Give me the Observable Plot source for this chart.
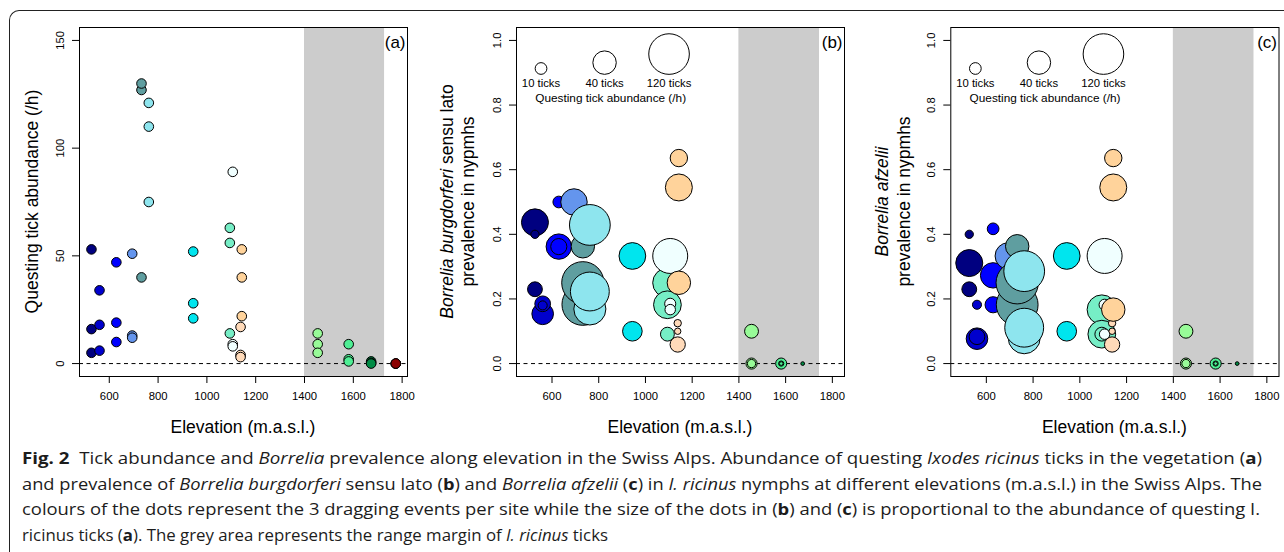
<!DOCTYPE html>
<html>
<head>
<meta charset="utf-8">
<script src="https://cdn.jsdelivr.net/npm/d3@7"></script>
<script src="https://cdn.jsdelivr.net/npm/@observablehq/plot@0.6"></script>
<style>
  html, body { margin: 0; padding: 0; background: #fff; width: 1284px; height: 552px; overflow: hidden; }
  #fig { position: relative; width: 1284px; height: 552px; overflow: hidden; }
  #border { position: absolute; left: 9px; top: 10px; width: 1400px; height: 700px;
            border-left: 1.2px solid #222; border-top: 1.2px solid #222; border-top-left-radius: 10px; }
  .panel { position: absolute; top: 0; }
  #caption { position: absolute; left: 22px; top: 445px; font-family: "Open Sans", "Noto Sans", sans-serif;
             font-size: 16.5px; color: #1c1c1c; }
  #caption .line { white-space: nowrap; width: max-content; height: 25.6px; line-height: 25.6px; transform-origin: 0 50%; }
  #caption b { font-weight: 700; }
</style>
</head>
<body>
<div id="fig">
  <div id="border"></div>
  <div id="pa" class="panel" style="left:0px"></div>
  <div id="pb" class="panel" style="left:420px"></div>
  <div id="pc" class="panel" style="left:850px"></div>
  <div id="caption">
    <div class="line"><b>Fig. 2</b>&nbsp; Tick abundance and <i>Borrelia</i> prevalence along elevation in the Swiss Alps. Abundance of questing <i>Ixodes ricinus</i> ticks in the vegetation (<b>a</b>)</div>
    <div class="line">and prevalence of <i>Borrelia burgdorferi</i> sensu lato (<b>b</b>) and <i>Borrelia afzelii</i> (<b>c</b>) in <i>I. ricinus</i> nymphs at different elevations (m.a.s.l.) in the Swiss Alps. The</div>
    <div class="line">colours of the dots represent the 3 dragging events per site while the size of the dots in (<b>b</b>) and (<b>c</b>) is proportional to the abundance of questing I.</div>
    <div class="line">ricinus ticks (<b>a</b>). The grey area represents the range margin of <i>I. ricinus</i> ticks</div>
  </div>
</div>
<script>
// ---------------- data ----------------
// sites (elevation, m a.s.l.), one colour per site
const siteElevation = [527, 560, 629, 694, 732, 762, 944, 1094, 1106, 1138, 1143, 1454, 1581, 1673, 1774];
const siteIds = siteElevation.map(e => "site " + e);
const sitePalette = ["#000080", "#0000CD", "#0000FF", "#6495ED", "#5F9EA0", "#8EE5EE", "#00E5EE",
                     "#76EEC6", "#F0FFFF", "#FFDAB9", "#FFD39B", "#98FB98", "#4EEE94", "#008B45", "#8B0000"];
// questing tick abundance (/h) for the 3 dragging events per site
const abundance = [
  [53, 16, 5], [34, 18, 6], [47, 19, 10], [51, 13, 12], [127, 130, 40], [121, 75, 110], [52, 28, 21],
  [63, 56, 14], [89, 9, 8], [17, 4, 3], [53, 40, 22], [14, 9, 5], [9, 2, 1], [1, 0.3, 0], [0, 0, 0]
];
// Borrelia burgdorferi s.l. prevalence in nymphs (null = not available)
const prevalenceBbsl = [
  [0.437, 0.230, 0.400], [0.154, 0.185, 0.180], [0.362, 0.362, 0.500], [0.500, null, null],
  [0.183, 0.250, 0.363], [0.429, 0.169, 0.223], [0.333, 0.100, null], [0.250, 0.182, 0.091],
  [0.333, 0.185, 0.167], [0.059, 0.125, 0.100], [0.545, 0.250, 0.636], [0.100, 0, 0],
  [0, 0, 0], [0, null, null], [null, null, null]
];
// Borrelia afzelii prevalence in nymphs
const prevalenceAfz = [
  [0.311, 0.230, 0.400], [0.077, 0.083, 0.182], [0.273, 0.182, 0.417], [0.333, null, null],
  [0.182, 0.250, 0.363], [0.286, 0.080, 0.111], [0.333, 0.100, null], [0.167, 0.091, 0.091],
  [0.333, 0.182, 0.091], [0.059, 0.125, 0.100], [0.545, 0.167, 0.636], [0.100, 0, 0],
  [0, 0, 0], [0, null, null], [null, null, null]
];
const rangeMarginA = [1400, 1728];
const rangeMarginBC = [1400, 1745];
const xTicks = [600, 800, 1000, 1200, 1400, 1600, 1800];
const yTicksA = [0, 50, 100, 150];
const yTicksBC = [0, 0.2, 0.4, 0.6, 0.8, 1.0];
const legendTicks = [10, 40, 120];
const legendTickX = [553, 825, 1101];     // legend placement in data units
const legendBaseY = 0.895, legendLabelY = 0.866, legendTitleY = 0.821, legendTitleX = 851;

// ---------------- table ----------------
const rows = [];
siteElevation.forEach((e, s) => {
  for (let k = 0; k < 3; k++) {
    rows.push({site: siteIds[s], elev: e, abund: abundance[s][k], bbsl: prevalenceBbsl[s][k], afz: prevalenceAfz[s][k]});
  }
});

const FONT = "'Liberation Sans', Arial, Helvetica, sans-serif";
const rMax = 20.3;
const rPx = d3.scaleSqrt().domain([0, 120]).range([0, rMax]);

function panel({width, marginLeft, marginRight, xDomain, yDomain, yTicks, yFormat, band, yKey, sized, tag, yTitleLines}) {
  const H = 445, mt = 27, mb = 69;
  const data = rows.filter(d => d[yKey] != null && (!sized || d.abund > 0));
  const marks = [
    Plot.rect([band], {x1: d => d[0], x2: d => d[1], fill: "#cccccc"}),
    Plot.ruleY([0], {stroke: "black", strokeWidth: 1, strokeDasharray: "4,3.5"}),
    Plot.dot(data, {x: "elev", y: yKey, r: sized ? "abund" : 4.8, fill: "site", stroke: "black", strokeWidth: 1, sort: null}),
    Plot.frame({stroke: "black", strokeWidth: 1}),
    Plot.axisX({ticks: xTicks, tickSize: 7, tickPadding: 8, fontSize: 11.3, label: null, tickFormat: d => String(d)}),
    Plot.axisY({ticks: yTicks, tickSize: 7, tickRotate: -90, tickPadding: 8.5, fontSize: 11.3, label: null, tickFormat: yFormat}),
    Plot.text([tag], {frameAnchor: "top-right", dx: -2, dy: 15, lineAnchor: "middle", textAnchor: "end", fontSize: 17, text: d => d})
  ];
  if (sized) {
    legendTicks.forEach((n, i) => {
      marks.push(Plot.dot([n], {x: () => legendTickX[i], y: () => legendBaseY, r: d => d, dy: -rPx(n),
                                fill: "white", stroke: "black", strokeWidth: 1, sort: null}));
    });
    marks.push(Plot.text(legendTicks, {x: (d, i) => legendTickX[i], y: () => legendLabelY, text: d => d + " ticks", fontSize: 11.3}));
    marks.push(Plot.text(["Questing tick abundance (/h)"], {x: () => legendTitleX, y: () => legendTitleY, text: d => d, fontSize: 11.8}));
  }
  const svg = Plot.plot({
    width, height: H, marginTop: mt, marginBottom: mb, marginLeft, marginRight,
    style: {background: "transparent", fontFamily: FONT, fontSize: "11.3px", color: "black", overflow: "visible"},
    x: {domain: xDomain},
    y: {domain: yDomain},
    r: sized ? {type: "sqrt", domain: [0, 120], range: [0, rMax]} : undefined,
    color: {domain: siteIds, range: sitePalette},
    marks
  });
  const g = d3.select(svg);
  const plotW = width - marginLeft - marginRight;
  const cy = mt + (H - mt - mb) / 2;
  g.append("text").attr("x", marginLeft + plotW / 2).attr("y", 432.7)
    .attr("text-anchor", "middle").attr("font-size", "17.5px").attr("font-family", FONT)
    .attr("fill", "black").text("Elevation (m.a.s.l.)");
  yTitleLines.forEach(({offset, parts}) => {
    const t = g.append("text")
      .attr("transform", `translate(${marginLeft - offset},${cy}) rotate(-90)`)
      .attr("text-anchor", "middle").attr("dy", "0.35em")
      .attr("font-size", "17.5px").attr("font-family", FONT).attr("fill", "black");
    parts.forEach(([txt, italic]) => {
      const s = t.append("tspan").text(txt);
      if (italic) s.attr("font-style", "italic");
    });
  });
  return svg;
}

document.getElementById("pa").appendChild(panel({
  width: 420, marginLeft: 79, marginRight: 13, xDomain: [478, 1822], yDomain: [-6, 156],
  yTicks: yTicksA, yFormat: d => String(d), band: rangeMarginA, yKey: "abund", sized: false, tag: "(a)",
  yTitleLines: [{offset: 47.5, parts: [["Questing tick abundance (/h)", false]]}]
}));
document.getElementById("pb").appendChild(panel({
  width: 430, marginLeft: 96, marginRight: 6, xDomain: [448, 1852], yDomain: [-0.04, 1.04],
  yTicks: yTicksBC, yFormat: d3.format(".1f"), band: rangeMarginBC, yKey: "bbsl", sized: true, tag: "(b)",
  yTitleLines: [
    {offset: 69, parts: [["Borrelia burgdorferi", true], [" sensu lato", false]]},
    {offset: 48.5, parts: [["prevalence in nypmhs", false]]}
  ]
}));
document.getElementById("pc").appendChild(panel({
  width: 434, marginLeft: 100.3, marginRight: 5.5, xDomain: [448, 1852], yDomain: [-0.04, 1.04],
  yTicks: yTicksBC, yFormat: d3.format(".1f"), band: rangeMarginBC, yKey: "afz", sized: true, tag: "(c)",
  yTitleLines: [
    {offset: 68.6, parts: [["Borrelia afzelii", true]]},
    {offset: 46.5, parts: [["prevalence in nypmhs", false]]}
  ]
}));

// caption: fit each line to the reference line width (condensed face)
const captionWidths = [1240, 1240, 1238, 586];
document.querySelectorAll("#caption .line").forEach((el, i) => {
  const w = el.getBoundingClientRect().width;
  el.style.transform = `scaleX(${captionWidths[i] / w})`;
});
</script>
</body>
</html>
